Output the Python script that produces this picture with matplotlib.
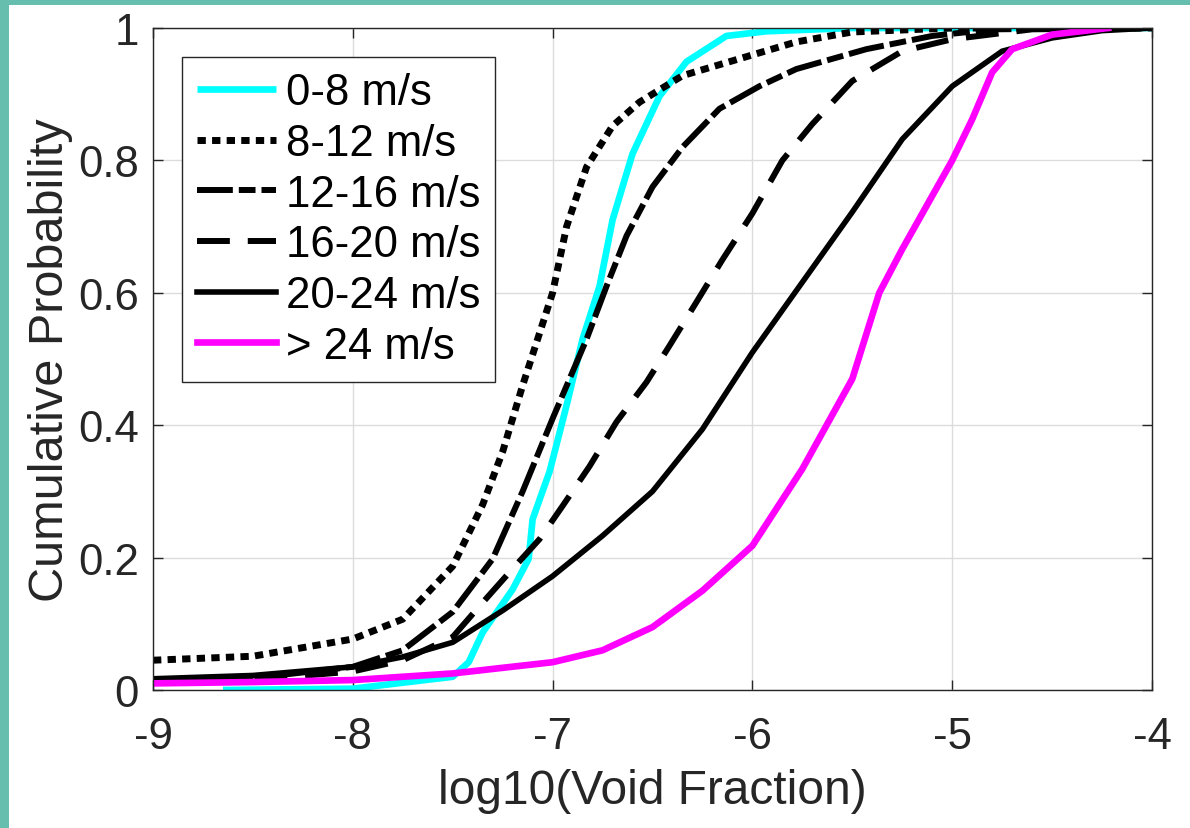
import numpy as np
import matplotlib
matplotlib.use('Agg')
import matplotlib.pyplot as plt
from matplotlib.patches import Rectangle

plt.rcParams['font.family'] = ['Liberation Sans', 'DejaVu Sans']

# CDF curves: log10(void fraction) vs cumulative probability
x_0_8 = [-8.65, -8.0, -7.5, -7.42, -7.35, -7.2, -7.12, -7.1, -7.015, -6.93, -6.85,
         -6.765, -6.7, -6.6, -6.465, -6.33, -6.13, -5.93, -5.5, -4.0]
y_0_8 = [0.0, 0.002, 0.02, 0.042, 0.087, 0.152, 0.198, 0.258, 0.33, 0.43, 0.53,
         0.61, 0.71, 0.81, 0.897, 0.949, 0.988, 0.995, 1.0, 1.0]

x_8_12 = [-9.0, -8.5, -8.0, -7.75, -7.5, -7.35, -7.25, -7.15, -7.0, -6.93, -6.83,
          -6.7, -6.565, -6.35, -6.015, -5.78, -5.5, -5.0, -4.0]
y_8_12 = [0.045, 0.051, 0.077, 0.107, 0.187, 0.28, 0.36, 0.46, 0.60, 0.70, 0.79,
          0.852, 0.888, 0.928, 0.958, 0.979, 0.994, 1.0, 1.0]

x_12_16 = [-9.0, -8.5, -8.0, -7.75, -7.5, -7.3, -7.15, -7.0, -6.83, -6.73, -6.63,
           -6.5, -6.35, -6.165, -5.965, -5.78, -5.43, -5.1, -4.8, -4.0]
y_12_16 = [0.015, 0.018, 0.035, 0.06, 0.118, 0.198, 0.30, 0.41, 0.53, 0.61, 0.686,
           0.76, 0.82, 0.878, 0.912, 0.938, 0.968, 0.988, 0.998, 1.0]

x_16_20 = [-9.0, -8.5, -8.0, -7.75, -7.5, -7.365, -7.215, -7.065, -6.95, -6.815,
           -6.68, -6.53, -6.415, -6.28, -6.15, -6.0, -5.85, -5.7, -5.5, -5.25,
           -5.0, -4.6, -4.0]
y_16_20 = [0.012, 0.015, 0.028, 0.045, 0.08, 0.127, 0.178, 0.228, 0.278, 0.338,
           0.405, 0.465, 0.52, 0.586, 0.65, 0.72, 0.80, 0.855, 0.92, 0.965,
           0.983, 0.998, 1.0]

x_20_24 = [-9.0, -8.5, -8.0, -7.75, -7.5, -7.25, -7.0, -6.75, -6.5, -6.25, -6.0,
           -5.75, -5.5, -5.25, -5.0, -4.75, -4.5, -4.25, -4.0]
y_20_24 = [0.017, 0.022, 0.035, 0.05, 0.072, 0.12, 0.172, 0.233, 0.30, 0.394, 0.51,
           0.616, 0.722, 0.832, 0.912, 0.965, 0.985, 0.996, 1.0]

x_24 = [-9.0, -8.5, -8.0, -7.5, -7.0, -6.75, -6.5, -6.25, -6.0, -5.75, -5.5,
        -5.365, -5.25, -5.0, -4.9, -4.8, -4.7, -4.5, -4.22]
y_24 = [0.01, 0.012, 0.015, 0.025, 0.042, 0.06, 0.095, 0.15, 0.218, 0.334, 0.47,
        0.60, 0.666, 0.80, 0.862, 0.933, 0.968, 0.99, 1.0]

labels = ['0-8 m/s', '8-12 m/s', '12-16 m/s', '16-20 m/s', '20-24 m/s', '> 24 m/s']

fig = plt.figure(figsize=(11.9, 8.29), dpi=100)
fig.patch.set_facecolor('#66bfae')
fig.patches.append(Rectangle((9 / 1190, 0), 1, 1 - 6 / 829, transform=fig.transFigure,
                             facecolor='white', edgecolor='none', zorder=-10))

ax = fig.add_axes([153 / 1190, 138 / 829, 999 / 1190, 662 / 829])
ax.set_zorder(5)

ax.plot(x_0_8, y_0_8, color='#00ffff', lw=4.8, label=labels[0], solid_capstyle='butt')
ax.plot(x_8_12, y_8_12, color='black', lw=5, dashes=(1.2, 0.9), label=labels[1],
        dash_capstyle='butt')
ax.plot(x_12_16, y_12_16, color='black', lw=4.3, dashes=(6.0, 1.0, 2.8, 1.0),
        label=labels[2], dash_capstyle='butt')
ax.plot(x_16_20, y_16_20, color='black', lw=4.3, dashes=(5.5, 3.0), label=labels[3],
        dash_capstyle='butt')
ax.plot(x_20_24, y_20_24, color='black', lw=4.0, label=labels[4])
ax.plot(x_24, y_24, color='#ff00ff', lw=4.8, label=labels[5])

ax.set_xlim(-9, -4)
ax.set_ylim(0, 1)
ax.set_xticks([-9, -8, -7, -6, -5, -4])
ax.set_xticklabels(['-9', '-8', '-7', '-6', '-5', '-4'])
ax.set_yticks([0, 0.2, 0.4, 0.6, 0.8, 1])
ax.set_yticklabels(['0', '0.2', '0.4', '0.6', '0.8', '1'])
ax.tick_params(direction='in', length=7, width=1, labelsize=31.5, colors='#262626',
               top=True, right=True)
ax.tick_params(axis='x', pad=19)
ax.tick_params(axis='y', pad=10)
ax.grid(True, color='#dcdcdc', lw=1)
ax.set_axisbelow(True)
for sp in ax.spines.values():
    sp.set_color('#262626')
    sp.set_linewidth(1)

ax.set_xlabel('log10(Void Fraction)', fontsize=34.5, color='#262626', labelpad=8)
ax.set_ylabel('Cumulative Probability', fontsize=35, color='#262626', labelpad=4)

leg = ax.legend(loc='upper left', bbox_to_anchor=(0.029, 0.956), fontsize=31.5,
                frameon=True, fancybox=False, borderaxespad=0, handlelength=1.8,
                handletextpad=0.22, labelspacing=0.22, borderpad=0.35)
leg.get_frame().set_edgecolor('#262626')
leg.get_frame().set_linewidth(1)
leg.get_frame().set_alpha(1)

fig.savefig('out.png', dpi=100, facecolor=fig.get_facecolor())
